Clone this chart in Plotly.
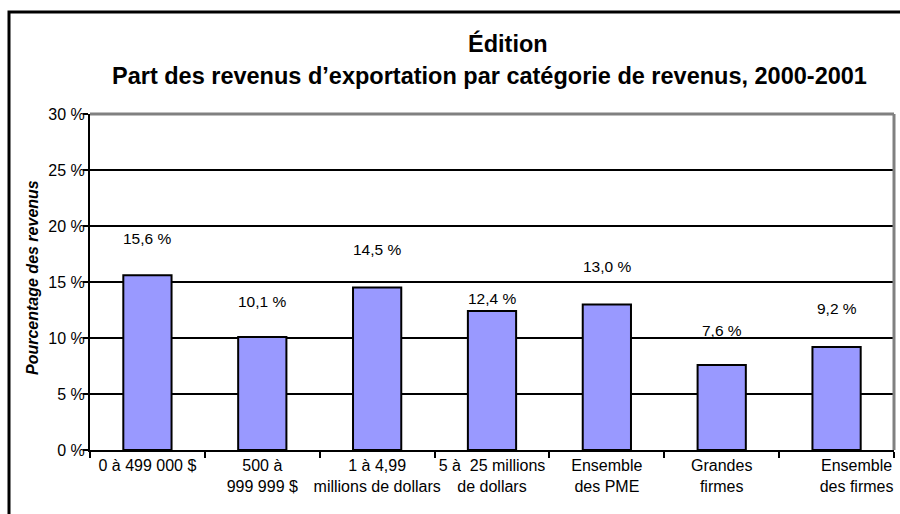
import plotly.graph_objects as go

categories = ["0 à 499 000 $", "500 à<br>999 999 $", "1 à 4,99<br>millions de dollars",
              "5 à  25 millions<br>de dollars", "Ensemble<br>des PME", "Grandes<br>firmes",
              "Ensemble<br>des firmes"]
values = [15.6, 10.1, 14.5, 12.4, 13.0, 7.6, 9.2]
y_ticks = [0, 5, 10, 15, 20, 25, 30]
y_ticklabels = ["0 %", "5 %", "10 %", "15 %", "20 %", "25 %", "30 %"]

# vertical gap between bar top and its label (px)
label_shift = [37, 35, 38, 13, 38, 34, 38]

font = "Liberation Sans, Arial, sans-serif"

# body margin is removed below, so figure pixels == page pixels
FW, FH = 900, 514
L, R, T, B = 90, 894, 114, 450
W, H = R - L, B - T


def px(x, y):
    # page pixel -> paper coords
    return (x - L) / W, (B - y) / H


# last category label sits pushed to the right in the original
pad = "&nbsp;" * 9
x_ticktext = categories[:-1] + ["<br>".join(pad + s for s in categories[-1].split("<br>"))]

fig = go.Figure(go.Bar(
    x=categories, y=values, width=0.42,
    marker=dict(color="#9999FF", line=dict(color="black", width=2)),
))

for c, v, s in zip(categories, values, label_shift):
    fig.add_annotation(x=c, y=v, yshift=s, text=f"{v:.1f}".replace(".", ",") + " %",
                       showarrow=False, font=dict(size=15.5, color="black"))

x1, y1 = px(508, 43)
fig.add_annotation(x=x1, y=y1, xref="paper", yref="paper", text="<b>Édition</b>",
                   showarrow=False, font=dict(size=23.5, color="black"),
                   xanchor="center", yanchor="middle")
x2, y2 = px(489, 76)
fig.add_annotation(x=x2, y=y2, xref="paper", yref="paper",
                   text="<b>Part des revenus d’exportation par catégorie de revenus, 2000-2001</b>",
                   showarrow=False, font=dict(size=23.5, color="black"),
                   xanchor="center", yanchor="middle")
x3, y3 = px(32, 278)
fig.add_annotation(x=x3, y=y3, xref="paper", yref="paper",
                   text="<b><i>Pourcentage des revenus</i></b>", textangle=-90,
                   showarrow=False, font=dict(size=16, color="black"),
                   xanchor="center", yanchor="middle")

fig.update_layout(
    width=FW, height=FH,
    margin=dict(l=L, r=FW - R, t=T, b=FH - B),
    plot_bgcolor="white", paper_bgcolor="white",
    font=dict(family=font, color="black", size=16),
    showlegend=False,
    xaxis=dict(type="category", tickson="boundaries", ticks="outside", ticklen=6,
               tickwidth=2, tickcolor="black", showline=True, linecolor="black",
               linewidth=2, showgrid=False, tickangle=0, automargin=False,
               tickvals=categories, ticktext=x_ticktext,
               tickfont=dict(size=16)),
    yaxis=dict(range=[0, 30], tickvals=y_ticks, ticktext=y_ticklabels,
               ticks="outside", ticklen=5, tickwidth=2, tickcolor="black",
               showline=True, linecolor="black", linewidth=2,
               gridcolor="black", gridwidth=2, zeroline=False, automargin=False,
               ticklabelstandoff=-5, tickfont=dict(size=16)),
)

# gray plot border on top and right
fig.add_shape(type="line", xref="paper", yref="paper", x0=0, x1=1, y0=1, y1=1,
              line=dict(color="#808080", width=3), layer="above")
fig.add_shape(type="line", xref="paper", yref="paper", x0=1, x1=1, y0=0, y1=1,
              line=dict(color="#808080", width=3), layer="above")
# outer chart frame, runs off the right and bottom edges
fx, fy = px(9, 12)
fig.add_shape(type="rect", xref="paper", yref="paper",
              x0=fx, x1=1.05, y0=-0.3, y1=fy,
              line=dict(color="black", width=3), layer="above")

fig.write_html("out.html", config={"displayModeBar": False},
               post_script="document.body.style.margin='0';document.body.style.overflow='hidden';")
